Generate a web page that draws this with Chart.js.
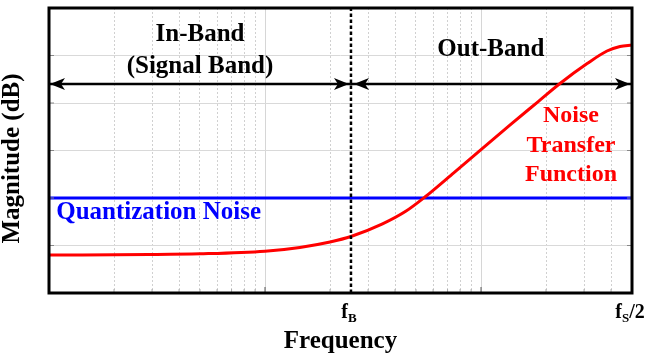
<!DOCTYPE html>
<html>
<head>
<meta charset="utf-8">
<script src="https://cdn.jsdelivr.net/npm/chart.js@4/dist/chart.umd.min.js"></script>
<style>
html, body { margin: 0; padding: 0; background: #ffffff; }
#wrap { width: 652px; height: 358px; }
</style>
</head>
<body>
<div id="wrap"><canvas id="c" width="652" height="358"></canvas></div>
<script>
// ---------------- data ----------------
const freq  = [1, 2.9, 5, 10, 14.5, 20, 25, 35, 45, 55, 75, 100, 136, 184, 232, 310, 383, 440, 500];
const ntfDb = [-104, -103.8, -103.5, -102.4, -100.8, -98.5, -96.2, -90.9, -85.5, -79.6, -69.3, -59.6, -49.3, -39.4, -31.8, -23.4, -18.1, -16.2, -15.6];
const quantNoiseDb = -80;
const fB = 25;
const fMin = 1;
const fHalf = 500;
const yMin = -120, yMax = 0, yStep = 20;
const bandArrowDb = -32;
const minorTicks = [2, 3, 4, 5, 6, 7, 8, 9, 20, 30, 40, 50, 60, 70, 80, 90, 200, 300, 400];
const majorTicks = [10, 100];
const xTickLabels = [
  { value: fB,    main: 'f', sub: 'B', tail: '' },
  { value: fHalf, main: 'f', sub: 'S', tail: '/2' }
];
const yTitle = 'Magnitude (dB)';
const xTitle = 'Frequency';

// ---------------- styles / annotation placement ----------------
const SERIF = '"Liberation Serif", "Times New Roman", serif';
const RED = '#ff0000';
const BLUE = '#0000ff';
const texts = [
  { text: 'In-Band',            f: 5,    db: -11,   align: 'center', color: '#000', size: 25 },
  { text: '(Signal Band)',      f: 5,    db: -24.5, align: 'center', color: '#000', size: 25 },
  { text: 'Out-Band',           f: 111,  db: -17.3, align: 'center', color: '#000', size: 25 },
  { text: 'Quantization Noise', f: 1.08, db: -86.3, align: 'left',   color: BLUE,   size: 25 },
  { text: 'Noise',              f: 261,  db: -45.5, align: 'center', color: RED,    size: 24 },
  { text: 'Transfer',           f: 261,  db: -58.1, align: 'center', color: RED,    size: 24 },
  { text: 'Function',           f: 261,  db: -70.4, align: 'center', color: RED,    size: 24 }
];

const ntfPoints = freq.map((f, i) => ({ x: f, y: ntfDb[i] }));
const isMajor = v => majorTicks.includes(v);

const overlay = {
  id: 'overlay',
  afterDatasetsDraw(chart) {
    const { ctx, chartArea: a, scales: { x, y } } = chart;
    ctx.save();
    // small inward tick marks
    x.ticks.forEach(t => {
      const px = x.getPixelForValue(t.value);
      ctx.beginPath();
      ctx.strokeStyle = isMajor(t.value) ? '#555' : '#aaa';
      ctx.lineWidth = 1;
      ctx.moveTo(px, a.bottom);
      ctx.lineTo(px, a.bottom - (isMajor(t.value) ? 6 : 4));
      ctx.stroke();
    });
    y.ticks.forEach(t => {
      const py = y.getPixelForValue(t.value);
      ctx.beginPath();
      ctx.strokeStyle = '#888';
      ctx.lineWidth = 1;
      ctx.moveTo(a.left, py); ctx.lineTo(a.left + 5, py);
      ctx.moveTo(a.right, py); ctx.lineTo(a.right - 5, py);
      ctx.stroke();
    });
    // arrow heads
    chart.data.datasets.forEach((ds, i) => {
      if (!ds.arrowHeads) return;
      const pts = chart.getDatasetMeta(i).data;
      const p0 = pts[0], p1 = pts[pts.length - 1];
      const heads = [
        { px: Math.max(p0.x, a.left) + ds.arrowInset[0], py: p0.y, dir: -1 },
        { px: Math.min(p1.x, a.right) - ds.arrowInset[1], py: p1.y, dir: 1 }
      ];
      ctx.fillStyle = '#000';
      heads.forEach(h => {
        ctx.beginPath();
        ctx.moveTo(h.px, h.py);
        ctx.lineTo(h.px - h.dir * 15, h.py - 6);
        ctx.lineTo(h.px - h.dir * 11, h.py);
        ctx.lineTo(h.px - h.dir * 15, h.py + 6);
        ctx.closePath();
        ctx.fill();
      });
    });
    // frame
    ctx.lineWidth = 3;
    ctx.strokeStyle = '#000';
    ctx.strokeRect(a.left, a.top, a.right - a.left, a.bottom - a.top);
    // annotation texts
    ctx.textBaseline = 'middle';
    texts.forEach(t => {
      ctx.font = 'bold ' + t.size + 'px ' + SERIF;
      ctx.fillStyle = t.color;
      ctx.textAlign = t.align;
      ctx.fillText(t.text, x.getPixelForValue(t.f), y.getPixelForValue(t.db));
    });
    // y-axis title (rotated), slightly below the plot centre as in the reference
    ctx.save();
    ctx.translate(13, (a.top + a.bottom) / 2 + 8);
    ctx.rotate(-Math.PI / 2);
    ctx.font = 'bold 25px ' + SERIF;
    ctx.fillStyle = '#000';
    ctx.textAlign = 'center';
    ctx.textBaseline = 'middle';
    ctx.fillText(yTitle, 0, 0);
    ctx.restore();
    // custom x tick labels with subscripts
    ctx.textBaseline = 'alphabetic';
    ctx.textAlign = 'left';
    ctx.fillStyle = '#000';
    xTickLabels.forEach(l => {
      const mainFont = 'bold 20px ' + SERIF;
      const subFont = 'bold 13px ' + SERIF;
      ctx.font = mainFont; const wm = ctx.measureText(l.main).width;
      ctx.font = subFont;  const ws = ctx.measureText(l.sub).width;
      ctx.font = mainFont; const wt = ctx.measureText(l.tail).width;
      const total = wm + ws + wt;
      let px = x.getPixelForValue(l.value) - 2 - total / 2;
      const base = a.bottom + 25;
      ctx.font = mainFont; ctx.fillText(l.main, px, base); px += wm;
      ctx.font = subFont;  ctx.fillText(l.sub, px, base + 4); px += ws;
      ctx.font = mainFont; ctx.fillText(l.tail, px, base);
    });
    ctx.restore();
  }
};

new Chart(document.getElementById('c'), {
  type: 'scatter',
  data: {
    datasets: [
      {
        label: 'fB',
        data: [{ x: fB, y: yMin }, { x: fB, y: yMax }],
        showLine: true, borderColor: '#000', borderWidth: 2.5, borderDash: [3.5, 2.5],
        pointRadius: 0
      },
      {
        label: 'Noise Transfer Function',
        data: ntfPoints,
        showLine: true, borderColor: RED, borderWidth: 3, pointRadius: 0,
        cubicInterpolationMode: 'monotone'
      },
      {
        label: 'Quantization Noise',
        data: [{ x: fMin, y: quantNoiseDb }, { x: fHalf, y: quantNoiseDb }],
        showLine: true, borderColor: BLUE, borderWidth: 3, pointRadius: 0
      },
      {
        label: 'In-Band',
        data: [{ x: fMin, y: bandArrowDb }, { x: fB, y: bandArrowDb }],
        showLine: true, borderColor: '#000', borderWidth: 2.5, pointRadius: 0,
        arrowHeads: true, arrowInset: [1, 2]
      },
      {
        label: 'Out-Band',
        data: [{ x: fB, y: bandArrowDb }, { x: fHalf, y: bandArrowDb }],
        showLine: true, borderColor: '#000', borderWidth: 2.5, pointRadius: 0,
        arrowHeads: true, arrowInset: [3, 2]
      }
    ]
  },
  options: {
    responsive: false,
    animation: false,
    devicePixelRatio: 1,
    layout: { padding: { top: 8, right: 20, left: 0, bottom: 0 } },
    plugins: { legend: { display: false }, tooltip: { enabled: false } },
    scales: {
      x: {
        type: 'logarithmic',
        min: fMin, max: fHalf,
        afterBuildTicks: s => { s.ticks = minorTicks.concat(majorTicks).sort((p, q) => p - q).map(v => ({ value: v })); },
        afterFit: s => { s.height = 65; },
        ticks: { display: false },
        grid: {
          drawTicks: false,
          lineWidth: 1,
          color: ctx => (ctx.tick && isMajor(ctx.tick.value)) ? '#d6d6d6' : '#d0d0d0'
        },
        border: {
          display: false,
          dash: ctx => (ctx.tick && isMajor(ctx.tick.value)) ? [] : [2, 2]
        },
        title: {
          display: true, text: xTitle, color: '#000',
          font: { family: SERIF, size: 25, weight: 'bold', lineHeight: 1 },
          padding: { top: 0, bottom: 4 }
        }
      },
      y: {
        min: yMin, max: yMax,
        afterFit: s => { s.width = 49; },
        ticks: { display: false, stepSize: yStep },
        grid: { drawTicks: false, color: '#d9d9d9', lineWidth: 1 },
        border: { display: false },
        title: { display: false }
      }
    }
  },
  plugins: [overlay]
});
</script>
</body>
</html>
